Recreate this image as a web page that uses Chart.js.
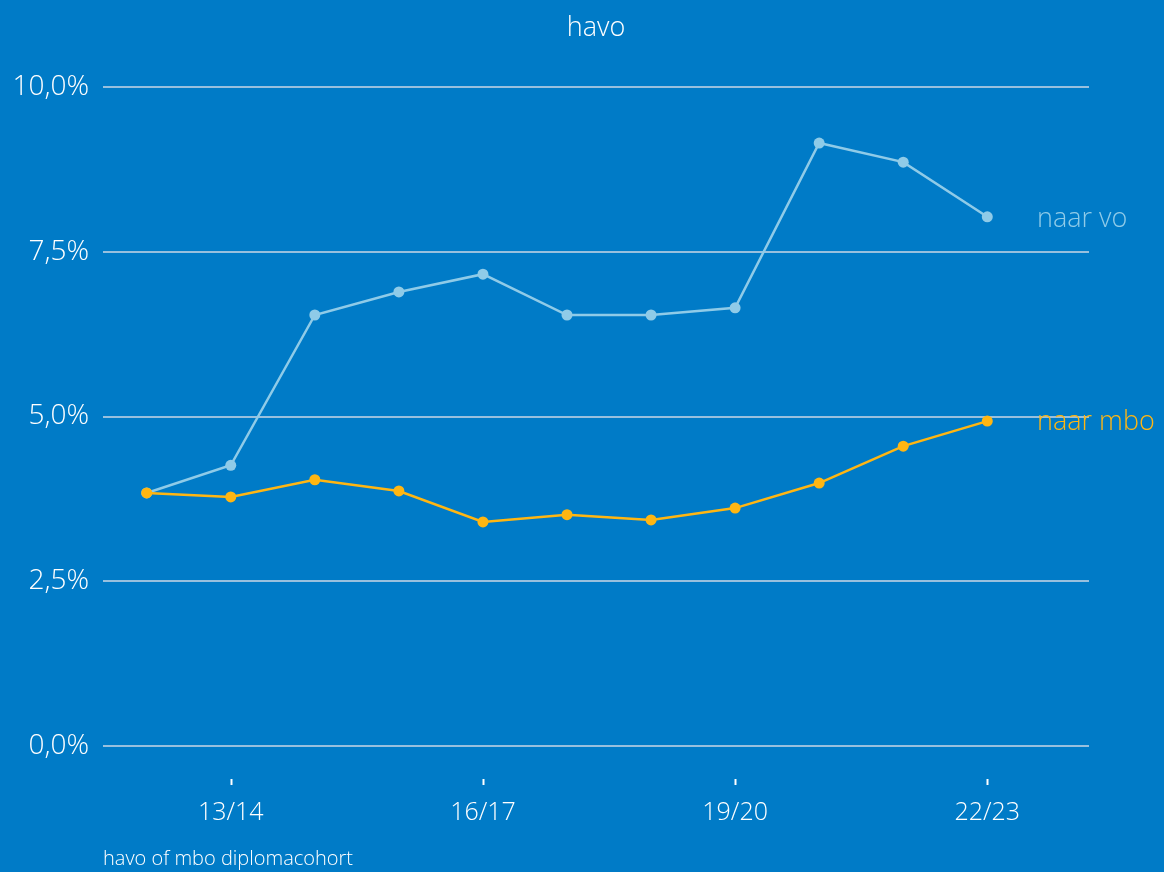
<!DOCTYPE html>
<html>
<head>
<meta charset="utf-8">
<script src="https://cdn.jsdelivr.net/npm/chart.js@4"></script>
<style>
  html, body { margin: 0; padding: 0; background: #007bc7; }
  #wrap { width: 1164px; height: 872px; }
</style>
</head>
<body>
<div id="wrap"><canvas id="chart" width="1164" height="872"></canvas></div>
<script>
// school years (diplomacohort)
const years = ['12/13', '13/14', '14/15', '15/16', '16/17', '17/18', '18/19', '19/20', '20/21', '21/22', '22/23'];
const shownYears = ['13/14', '16/17', '19/20', '22/23'];

// percentages
const naarVo  = [3.84, 4.26, 6.54, 6.89, 7.16, 6.54, 6.54, 6.65, 9.15, 8.86, 8.03];
const naarMbo = [3.84, 3.78, 4.04, 3.87, 3.40, 3.51, 3.43, 3.61, 3.99, 4.55, 4.93];

const yTicks = [0, 2.5, 5, 7.5, 10];

const BG = '#007bc7';
const VO_COLOR = '#8fcbe8';
const MBO_COLOR = '#ffb612';
const GRID = 'rgba(190, 210, 228, 0.8)';
const FONT = '"Open Sans", sans-serif';

const toPoints = (arr) => arr.map((v, i) => ({ x: i, y: v }));

// background, title, footnote, end labels and small x tick marks
const decorations = {
  id: 'decorations',
  beforeDraw(chart) {
    const { ctx, width, height } = chart;
    ctx.save();
    ctx.fillStyle = BG;
    ctx.fillRect(0, 0, width, height);
    ctx.restore();
  },
  afterDraw(chart) {
    const { ctx, scales } = chart;
    const x = scales.x, y = scales.y;
    ctx.save();
    ctx.fillStyle = '#ffffff';
    ctx.textBaseline = 'middle';
    ctx.textAlign = 'center';
    ctx.font = '300 27px ' + FONT;
    ctx.fillText('havo', 596, 28);

    ctx.textAlign = 'left';
    ctx.font = '300 20px ' + FONT;
    ctx.fillText('havo of mbo diplomacohort', 103, 859);

    // tick marks above the x labels
    ctx.strokeStyle = '#ffffff';
    ctx.lineWidth = 2;
    shownYears.forEach(lbl => {
      const px = Math.round(x.getPixelForValue(years.indexOf(lbl))) + 0.5;
      ctx.beginPath();
      ctx.moveTo(px, 779);
      ctx.lineTo(px, 785);
      ctx.stroke();
    });

    // series labels at the end of each line
    const last = years.length - 1;
    ctx.font = '300 27px ' + FONT;
    ctx.fillStyle = VO_COLOR;
    ctx.fillText('naar vo', 1037, y.getPixelForValue(naarVo[last]) + 2);
    ctx.fillStyle = MBO_COLOR;
    ctx.fillText('naar mbo', 1037, y.getPixelForValue(naarMbo[last]) + 1);
    ctx.restore();
  }
};

new Chart(document.getElementById('chart'), {
  type: 'line',
  data: {
    datasets: [
      {
        label: 'naar mbo',
        data: toPoints(naarMbo),
        borderColor: MBO_COLOR,
        backgroundColor: MBO_COLOR,
        borderWidth: 2.5,
        pointRadius: 5.5,
        pointBorderWidth: 0,
        tension: 0,
      },
      {
        label: 'naar vo',
        data: toPoints(naarVo),
        borderColor: VO_COLOR,
        backgroundColor: VO_COLOR,
        borderWidth: 2.5,
        pointRadius: 5.5,
        pointBorderWidth: 0,
        tension: 0,
      },
    ],
  },
  options: {
    responsive: false,
    animation: false,
    layout: { padding: { top: 87, right: 75, left: 0, bottom: 0 } },
    plugins: {
      legend: { display: false },
      tooltip: { enabled: false },
      title: { display: false },
    },
    scales: {
      x: {
        type: 'linear',
        min: -0.52,
        max: 11.21,
        afterBuildTicks: (scale) => {
          scale.ticks = shownYears.map(lbl => ({ value: years.indexOf(lbl) }));
        },
        afterFit: (scale) => { scale.height = 126; },
        ticks: {
          callback: (value) => years[value],
          color: '#ffffff',
          font: { family: FONT, size: 25, weight: '300' },
          padding: 44,
          maxRotation: 0,
          autoSkip: false,
        },
        grid: { display: false },
        border: { display: false },
      },
      y: {
        min: 0,
        max: 10,
        afterBuildTicks: (scale) => {
          scale.ticks = yTicks.map(v => ({ value: v }));
        },
        afterFit: (scale) => { scale.width = 103; },
        ticks: {
          callback: (value) => value.toFixed(1).replace('.', ',') + '%',
          color: '#ffffff',
          font: { family: FONT, size: 28, weight: '300' },
          padding: 14,
        },
        grid: { color: GRID, lineWidth: 2, drawTicks: false },
        border: { display: false },
      },
    },
  },
  plugins: [decorations],
});
</script>
</body>
</html>
